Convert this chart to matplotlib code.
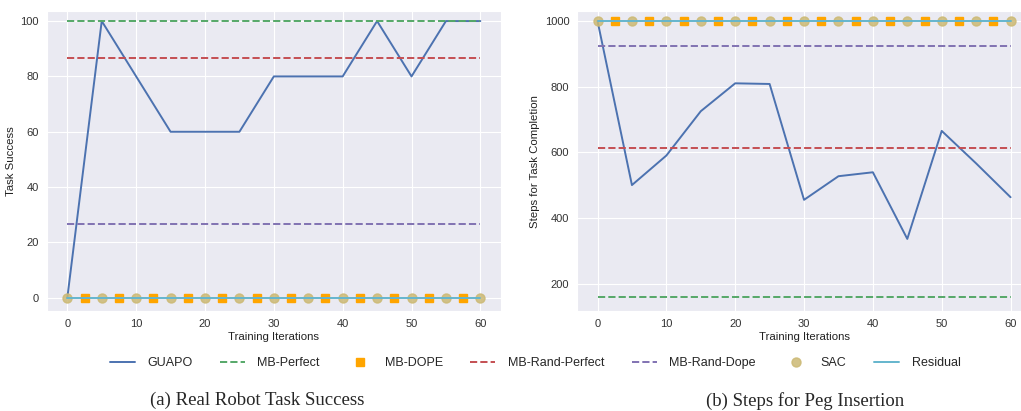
import numpy as np
import matplotlib
matplotlib.use("Agg")
import matplotlib.pyplot as plt
import seaborn as sns
from matplotlib.lines import Line2D

sns.set_style("darkgrid")
plt.rcParams['font.family'] = ['Liberation Sans', 'DejaVu Sans']

# Training iterations
iters = [0, 5, 10, 15, 20, 25, 30, 35, 40, 45, 50, 55, 60]
dope_iters = [2.5, 7.5, 12.5, 17.5, 22.5, 27.5, 32.5, 37.5, 42.5, 47.5, 52.5, 57.5]

# (a) Real robot task success
guapo_success = [0, 100, 80, 60, 60, 60, 80, 80, 80, 100, 80, 100, 100]
mb_perfect_success = 100
mb_rand_perfect_success = 86.7
mb_rand_dope_success = 26.7
mb_dope_success = [0] * len(dope_iters)
sac_success = [0] * len(iters)
residual_success = [0] * len(iters)

# (b) Steps for peg insertion
guapo_steps = [1000, 500, 590, 725, 810, 808, 455, 527, 539, 336, 665, 566, 463]
mb_perfect_steps = 160
mb_rand_perfect_steps = 613
mb_rand_dope_steps = 925
mb_dope_steps = [1000] * len(dope_iters)
sac_steps = [1000] * len(iters)
residual_steps = [1000] * len(iters)

labels = ["GUAPO", "MB-Perfect", "MB-DOPE", "MB-Rand-Perfect",
          "MB-Rand-Dope", "SAC", "Residual"]

c_guapo = "#4C72B0"
c_perf = "#55A868"
c_dope = "#FFA500"
c_rperf = "#C44E52"
c_rdope = "#8172B2"
c_sac = "#CCB974"
c_res = "#64B5CD"

fig = plt.figure(figsize=(10.21, 4.11), dpi=100)
ax1 = fig.add_axes([0.0457, 0.243, 0.445, 0.730])
ax2 = fig.add_axes([0.565, 0.243, 0.445, 0.730])


def draw(ax, guapo, perf, dope, rperf, rdope, sac, res):
    ax.plot(iters, guapo, color=c_guapo, lw=1.4)
    ax.plot([0, 60], [perf, perf], color=c_perf, lw=1.4, ls="--")
    ax.plot(dope_iters, dope, color=c_dope, marker="s", ls="none", ms=6)
    ax.plot([0, 60], [rperf, rperf], color=c_rperf, lw=1.4, ls="--")
    ax.plot([0, 60], [rdope, rdope], color=c_rdope, lw=1.4, ls="--")
    ax.plot(iters, sac, color=c_sac, marker="o", ls="none", ms=6.5, alpha=0.85)
    ax.plot(iters, res, color=c_res, lw=1.4)
    ax.set_xlim(-3, 63)
    ax.set_xticks([0, 10, 20, 30, 40, 50, 60])
    ax.tick_params(labelsize=8, pad=2, colors="#333333")
    ax.set_xlabel("Training Iterations", fontsize=8.2, labelpad=2, color="#222222")


draw(ax1, guapo_success, mb_perfect_success, mb_dope_success,
     mb_rand_perfect_success, mb_rand_dope_success, sac_success, residual_success)
ax1.set_ylim(-4.8, 103.6)
ax1.set_yticks([0, 20, 40, 60, 80, 100])
ax1.set_ylabel("Task Success", fontsize=8.2, labelpad=3, color="#222222")

draw(ax2, guapo_steps, mb_perfect_steps, mb_dope_steps,
     mb_rand_perfect_steps, mb_rand_dope_steps, sac_steps, residual_steps)
ax2.set_ylim(116, 1030)
ax2.set_yticks([200, 400, 600, 800, 1000])
ax2.set_ylabel("Steps for Task Completion", fontsize=8.2, labelpad=3, color="#222222")

handles = [
    Line2D([], [], color=c_guapo, lw=1.4),
    Line2D([], [], color=c_perf, lw=1.4, ls="--"),
    Line2D([], [], color=c_dope, marker="s", ls="none", ms=6),
    Line2D([], [], color=c_rperf, lw=1.4, ls="--"),
    Line2D([], [], color=c_rdope, lw=1.4, ls="--"),
    Line2D([], [], color=c_sac, marker="o", ls="none", ms=6.5, alpha=0.85),
    Line2D([], [], color=c_res, lw=1.4),
]
fig.legend(handles, labels, loc="center", bbox_to_anchor=(0.524, 0.117),
           ncol=7, frameon=False, fontsize=9, handlelength=2.0,
           columnspacing=2.2, handletextpad=1.0)

fig.text(0.252, 0.025, "(a) Real Robot Task Success", ha="center", va="center",
         fontsize=13.5, family="Liberation Serif")
fig.text(0.789, 0.025, "(b) Steps for Peg Insertion", ha="center", va="center",
         fontsize=13.5, family="Liberation Serif")

fig.savefig("out.png", dpi=100)
